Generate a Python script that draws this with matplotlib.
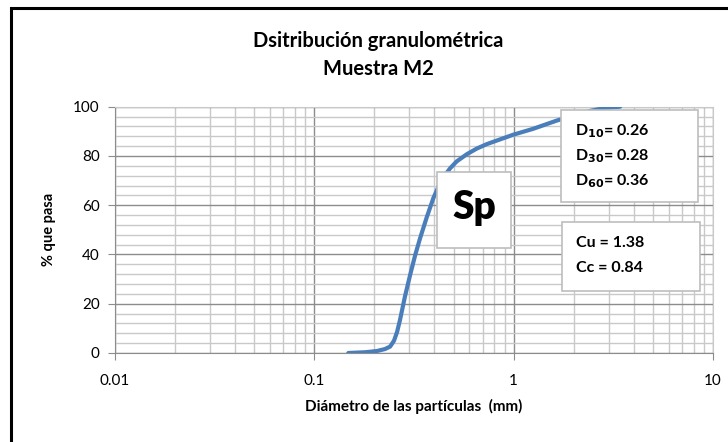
import matplotlib.pyplot as plt
from matplotlib.patches import Rectangle
from matplotlib.ticker import LogLocator, MultipleLocator, FixedLocator, NullFormatter

# diametro (mm) y % que pasa
diametro = [0.148, 0.180, 0.206, 0.226, 0.240, 0.251, 0.260, 0.269, 0.285, 0.302,
            0.320, 0.339, 0.366, 0.396, 0.436, 0.480, 0.518, 0.582, 0.653, 0.733,
            0.993, 1.25, 1.65, 2.03, 2.42, 2.87, 3.42]
pasa = [0.0, 0.3, 0.8, 1.6, 2.6, 5.0, 8.5, 13.4, 23.0, 31.5,
        39.5, 46.5, 55.0, 63.0, 70.5, 75.0, 77.8, 80.7, 83.0, 84.8,
        88.6, 91.0, 94.4, 96.5, 98.3, 99.5, 100.0]

titulo = "Dsitribución granulométrica\nMuestra M2"
x_ticks = [0.01, 0.1, 1, 10]
x_labels = ["0.01", "0.1", "1", "10"]
y_ticks = [0, 20, 40, 60, 80, 100]

plt.rcParams['font.family'] = ['Lato', 'DejaVu Sans']

fig = plt.figure(figsize=(7.28, 4.42), dpi=100)
ax = fig.add_axes([115 / 728, 1 - 353 / 442, 598 / 728, 246.3 / 442])

ax.set_xscale('log')
ax.set_xlim(0.01, 10)
ax.set_ylim(0, 100)

ax.xaxis.set_major_locator(FixedLocator(x_ticks))
ax.set_xticklabels(x_labels)
ax.xaxis.set_minor_locator(LogLocator(base=10, subs=range(2, 10)))
ax.xaxis.set_minor_formatter(NullFormatter())
ax.set_yticks(y_ticks)
ax.yaxis.set_minor_locator(MultipleLocator(4))

ax.grid(which='major', color='#8c8c8c', linewidth=1.0)
ax.grid(which='minor', color='#c9c9c9', linewidth=1.0)
ax.set_axisbelow(True)
ax.tick_params(which='major', length=5, color='#8c8c8c', labelsize=11, pad=6)
ax.tick_params(which='minor', length=0)
ax.tick_params(axis='x', pad=10)
for s in ['top', 'right']:
    ax.spines[s].set_color('#c9c9c9')
for s in ['left', 'bottom']:
    ax.spines[s].set_color('#8c8c8c')

ax.plot(diametro, pasa, color='#4a7ebb', linewidth=3, solid_capstyle='round',
        solid_joinstyle='round', zorder=3)

ax.set_xlabel("Diámetro de las partículas  (mm)", fontsize=11, fontweight='bold', labelpad=8)
ax.set_ylabel("% que pasa", fontsize=10.5, fontweight='bold', labelpad=12)
fig.text(378 / 728, 1 - 55 / 442, titulo, ha='center', va='center',
         fontsize=14.5, fontweight='bold', linespacing=1.55)

# cuadros de texto
def caja(x0, y0, x1, y1):
    fig.patches.append(Rectangle((x0 / 728, 1 - y1 / 442), (x1 - x0) / 728, (y1 - y0) / 442,
                                 transform=fig.transFigure, facecolor='white',
                                 edgecolor='#bdbdbd', linewidth=1.2, zorder=5))

caja(437, 172, 511, 248)
fig.text(474 / 728, 1 - 208 / 442, "Sp", ha='center', va='center', fontsize=28,
         fontweight='heavy', zorder=6)

caja(561, 110, 698, 202)
for i, (sub, val) in enumerate([("10", "0.26"), ("30", "0.28"), ("60", "0.36")]):
    fig.text(575 / 728, 1 - (131 + 25 * i) / 442, r"D$_{\mathbf{%s}}$= %s" % (sub, val),
             ha='left', va='center', fontsize=11.5, fontweight='bold', zorder=6)

caja(562, 222, 700, 291)
fig.text(576 / 728, 1 - 243 / 442, "Cu = 1.38", ha='left', va='center', fontsize=11.5,
         fontweight='bold', zorder=6)
fig.text(576 / 728, 1 - 268 / 442, "Cc = 0.84", ha='left', va='center', fontsize=11.5,
         fontweight='bold', zorder=6)

# marco exterior
fig.patches.append(Rectangle((11 / 728, -0.05), 1.1, 1 - 8 / 442 + 0.05,
                             transform=fig.transFigure, fill=False,
                             edgecolor='black', linewidth=2.2, zorder=10))

fig.savefig("out.png", dpi=100)
